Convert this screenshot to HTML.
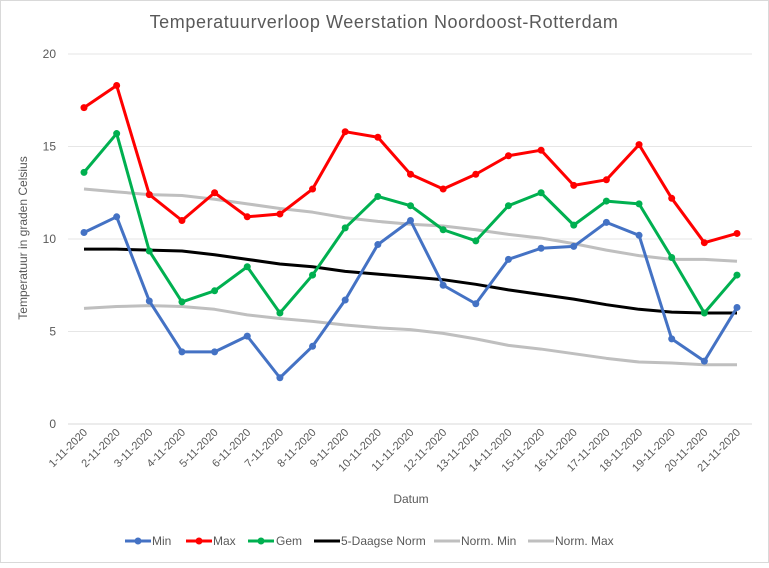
<!DOCTYPE html>
<html><head><meta charset="utf-8"><style>
html,body{margin:0;padding:0;background:#fff;}
body{width:769px;height:563px;overflow:hidden;font-family:"Liberation Sans",Arial,sans-serif;}
</style></head><body>
<svg id="chart" width="769" height="563" xmlns="http://www.w3.org/2000/svg" font-family="Liberation Sans, Arial, sans-serif">
<rect x="0.5" y="0.5" width="768" height="562" fill="#fff" stroke="#d9d9d9"/>
<text x="384" y="28" text-anchor="middle" font-size="18" letter-spacing="0.6" fill="#595959">Temperatuurverloop Weerstation Noordoost-Rotterdam</text>
<text transform="translate(27,238) rotate(-90)" text-anchor="middle" font-size="12" fill="#595959">Temperatuur  in graden Celsius</text>
<text x="411" y="503" text-anchor="middle" font-size="12" fill="#595959">Datum</text>
<g id="grid"></g><g id="series"></g><g id="labels"></g><g id="legend"></g>
</svg>
<script>
const categories=["1-11-2020","2-11-2020","3-11-2020","4-11-2020","5-11-2020","6-11-2020","7-11-2020","8-11-2020","9-11-2020","10-11-2020","11-11-2020","12-11-2020","13-11-2020","14-11-2020","15-11-2020","16-11-2020","17-11-2020","18-11-2020","19-11-2020","20-11-2020","21-11-2020"];
const minVals=[10.35,11.2,6.65,3.9,3.9,4.75,2.5,4.2,6.7,9.7,11.0,7.5,6.5,8.9,9.5,9.6,10.9,10.2,4.6,3.4,6.3];
const maxVals=[17.1,18.3,12.4,11.0,12.5,11.2,11.35,12.7,15.8,15.5,13.5,12.7,13.5,14.5,14.8,12.9,13.2,15.1,12.2,9.8,10.3];
const gemVals=[13.6,15.7,9.35,6.6,7.2,8.5,6.0,8.05,10.6,12.3,11.8,10.5,9.9,11.8,12.5,10.75,12.05,11.9,9.0,6.0,8.05];
const normVals=[9.45,9.45,9.4,9.35,9.15,8.9,8.65,8.5,8.25,8.1,7.95,7.8,7.55,7.25,7.0,6.75,6.45,6.2,6.05,6.0,6.0];
const normMinVals=[6.25,6.35,6.4,6.35,6.2,5.9,5.7,5.55,5.35,5.2,5.1,4.9,4.6,4.25,4.05,3.8,3.55,3.35,3.3,3.2,3.2];
const normMaxVals=[12.7,12.55,12.4,12.35,12.15,11.9,11.65,11.45,11.15,10.95,10.8,10.7,10.5,10.25,10.05,9.75,9.4,9.1,8.9,8.9,8.8];
const yTicks=[0,5,10,15,20];
const NS="http://www.w3.org/2000/svg";
const x0=84,x1=737,yBase=424,yTop=54,yMax=20;
const xs=i=>x0+(x1-x0)*i/(categories.length-1);
const ys=v=>yBase-(yBase-yTop)*v/yMax;
function mk(tag,attrs,parent){const e=document.createElementNS(NS,tag);for(const k in attrs)e.setAttribute(k,attrs[k]);parent.appendChild(e);return e;}
const grid=document.getElementById('grid'),series=document.getElementById('series'),labels=document.getElementById('labels'),legend=document.getElementById('legend');
yTicks.forEach(t=>{
  const l=mk('line',{x1:68,x2:752,y1:ys(t),y2:ys(t),stroke:t===0?'#d9d9d9':'#e6e6e6','stroke-width':1},grid);
  
  
  const tx=mk('text',{x:56,y:ys(t)+4,'text-anchor':'end','font-size':12,fill:'#595959'},labels);
  tx.textContent=t;
  
  
});
categories.forEach((c,i)=>{
  const tx=mk('text',{transform:`translate(${xs(i)+4},${433}) rotate(-45)`,'text-anchor':'end','font-size':11,fill:'#595959'},labels);
  tx.textContent=c;
  
  
});
const defs=[
 {name:'Norm. Min',vals:normMinVals,color:'#bfbfbf',marker:false,w:3},
 {name:'Norm. Max',vals:normMaxVals,color:'#bfbfbf',marker:false,w:3},
 {name:'5-Daagse Norm',vals:normVals,color:'#000',marker:false,w:3},
 {name:'Min',vals:minVals,color:'#4472c4',marker:true,w:3},
 {name:'Max',vals:maxVals,color:'#ff0000',marker:true,w:3},
 {name:'Gem',vals:gemVals,color:'#00b050',marker:true,w:3}
];
defs.forEach(d=>{
  const slug=d.name.toLowerCase().replace(/[^a-z0-9]+/g,'-');
  const p=mk('polyline',{points:d.vals.map((v,i)=>xs(i)+','+ys(v)).join(' '),fill:'none',stroke:d.color,'stroke-width':d.w,'stroke-linejoin':'round'},series);
  
  
  if(d.marker)d.vals.forEach((v,i)=>{
    const c=mk('circle',{cx:xs(i),cy:ys(v),r:3.5,fill:d.color},series);
    
    
  });
});
const leg=[
 {name:'Min',color:'#4472c4',marker:true,lx:125,tx:152},
 {name:'Max',color:'#ff0000',marker:true,lx:186,tx:213},
 {name:'Gem',color:'#00b050',marker:true,lx:248,tx:276},
 {name:'5-Daagse Norm',color:'#000',marker:false,lx:314,tx:341},
 {name:'Norm. Min',color:'#bfbfbf',marker:false,lx:434,tx:461},
 {name:'Norm. Max',color:'#bfbfbf',marker:false,lx:528,tx:555}
];
leg.forEach(d=>{
  const g=mk('g',{},legend);
  
  
  mk('line',{x1:d.lx,x2:d.lx+26,y1:541,y2:541,stroke:d.color,'stroke-width':3},g);
  if(d.marker)mk('circle',{cx:d.lx+13,cy:541,r:3.5,fill:d.color},g);
  const t=mk('text',{x:d.tx,y:545,'font-size':12,fill:'#595959'},g);
  t.textContent=d.name;
});
</script>
</body></html>
